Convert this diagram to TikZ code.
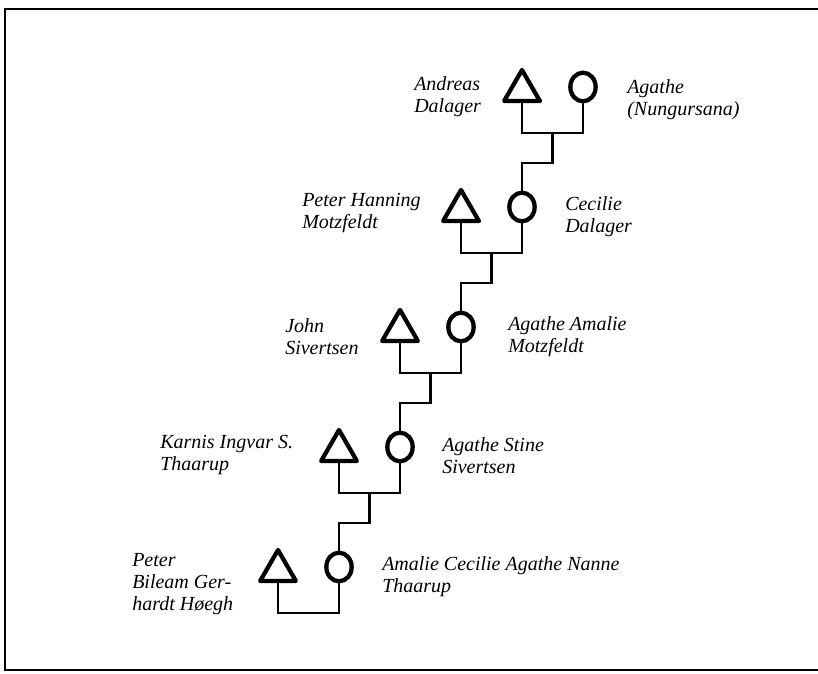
\documentclass[tikz,border=0pt]{standalone}
\usepackage{fontspec}
\setmainfont{Liberation Serif}
\usetikzlibrary{shapes.geometric}

\tikzset{
  male/.style={draw, regular polygon, regular polygon sides=3, minimum size=31pt,
    inner sep=0pt, outer sep=0pt, line width=3.2pt, line join=round},
  female/.style={draw, ellipse, minimum width=19pt, minimum height=21.5pt,
    inner sep=0pt, outer sep=0pt, line width=3.2pt},
  namelbl/.style={anchor=north west, inner sep=0pt, align=left,
    font=\fontsize{15}{16.5}\selectfont\itshape},
  kinline/.style={line width=1.7pt},
}

\begin{document}
\begin{tikzpicture}[x=0.75pt,y=0.75pt,yscale=-1,xscale=1]
\useasboundingbox (0,0) rectangle (818,674);

% Frame
\draw [line width=1.6pt] (818,9) -- (5,9) -- (5,670) -- (818,670) ;

% Shapes
\node (andreas) [male, anchor=side 2] at (522,101) {};
\node (agathe) [female] at (583,87) {};
\node (peter) [male, anchor=side 2] at (461,221) {};
\node (cecilie) [female] at (522,207) {};
\node (john) [male, anchor=side 2] at (400,341) {};
\node (amalie) [female] at (461,327) {};
\node (karnis) [male, anchor=side 2] at (339,461) {};
\node (stine) [female] at (400,447) {};
\node (bileam) [male, anchor=side 2] at (278,581) {};
\node (nanne) [female] at (339,567) {};

% Bar points
\coordinate (bar1) at (552.5,133);
\coordinate (bar2) at (491.5,253);
\coordinate (bar3) at (430.5,373);
\coordinate (bar4) at (369.5,493);
\coordinate (bar5) at (308.5,613);

% Text Node
\node (andreaslbl) [namelbl] at (414,76) {Andreas\\Dalager};
% Text Node
\node (agathelbl) [namelbl] at (627,79) {Agathe\\(Nungursana)};
% Text Node
\node (peterlbl) [namelbl] at (302,193) {Peter Hanning\\Motzfeldt};
% Text Node
\node (cecilielbl) [namelbl] at (565,196) {Cecilie\\Dalager};
% Text Node
\node (johnlbl) [namelbl] at (285,318) {John\\Sivertsen};
% Text Node
\node (amalielbl) [namelbl] at (508,316) {Agathe Amalie\\Motzfeldt};
% Text Node
\node (karnislbl) [namelbl] at (160,435) {Karnis Ingvar S.\\Thaarup};
% Text Node
\node (stinelbl) [namelbl] at (442,437) {Agathe Stine\\Sivertsen};
% Text Node
\node (bileamlbl) [namelbl] at (132,553) {Peter\\Bileam Ger-\\hardt Høegh};
% Text Node
\node (nannelbl) [namelbl] at (382,556) {Amalie Cecilie Agathe Nanne\\Thaarup};

% Connection
\draw [kinline] (andreas.side 2) |- (bar1) -| (agathe.south) ;
% Connection
\draw [kinline] (bar1) -- ++(0,30) -| (cecilie.north) ;
% Connection
\draw [kinline] (peter.side 2) |- (bar2) -| (cecilie.south) ;
% Connection
\draw [kinline] (bar2) -- ++(0,30) -| (amalie.north) ;
% Connection
\draw [kinline] (john.side 2) |- (bar3) -| (amalie.south) ;
% Connection
\draw [kinline] (bar3) -- ++(0,30) -| (stine.north) ;
% Connection
\draw [kinline] (karnis.side 2) |- (bar4) -| (stine.south) ;
% Connection
\draw [kinline] (bar4) -- ++(0,30) -| (nanne.north) ;
% Connection
\draw [kinline] (bileam.side 2) |- (bar5) -| (nanne.south) ;

\end{tikzpicture}
\end{document}
